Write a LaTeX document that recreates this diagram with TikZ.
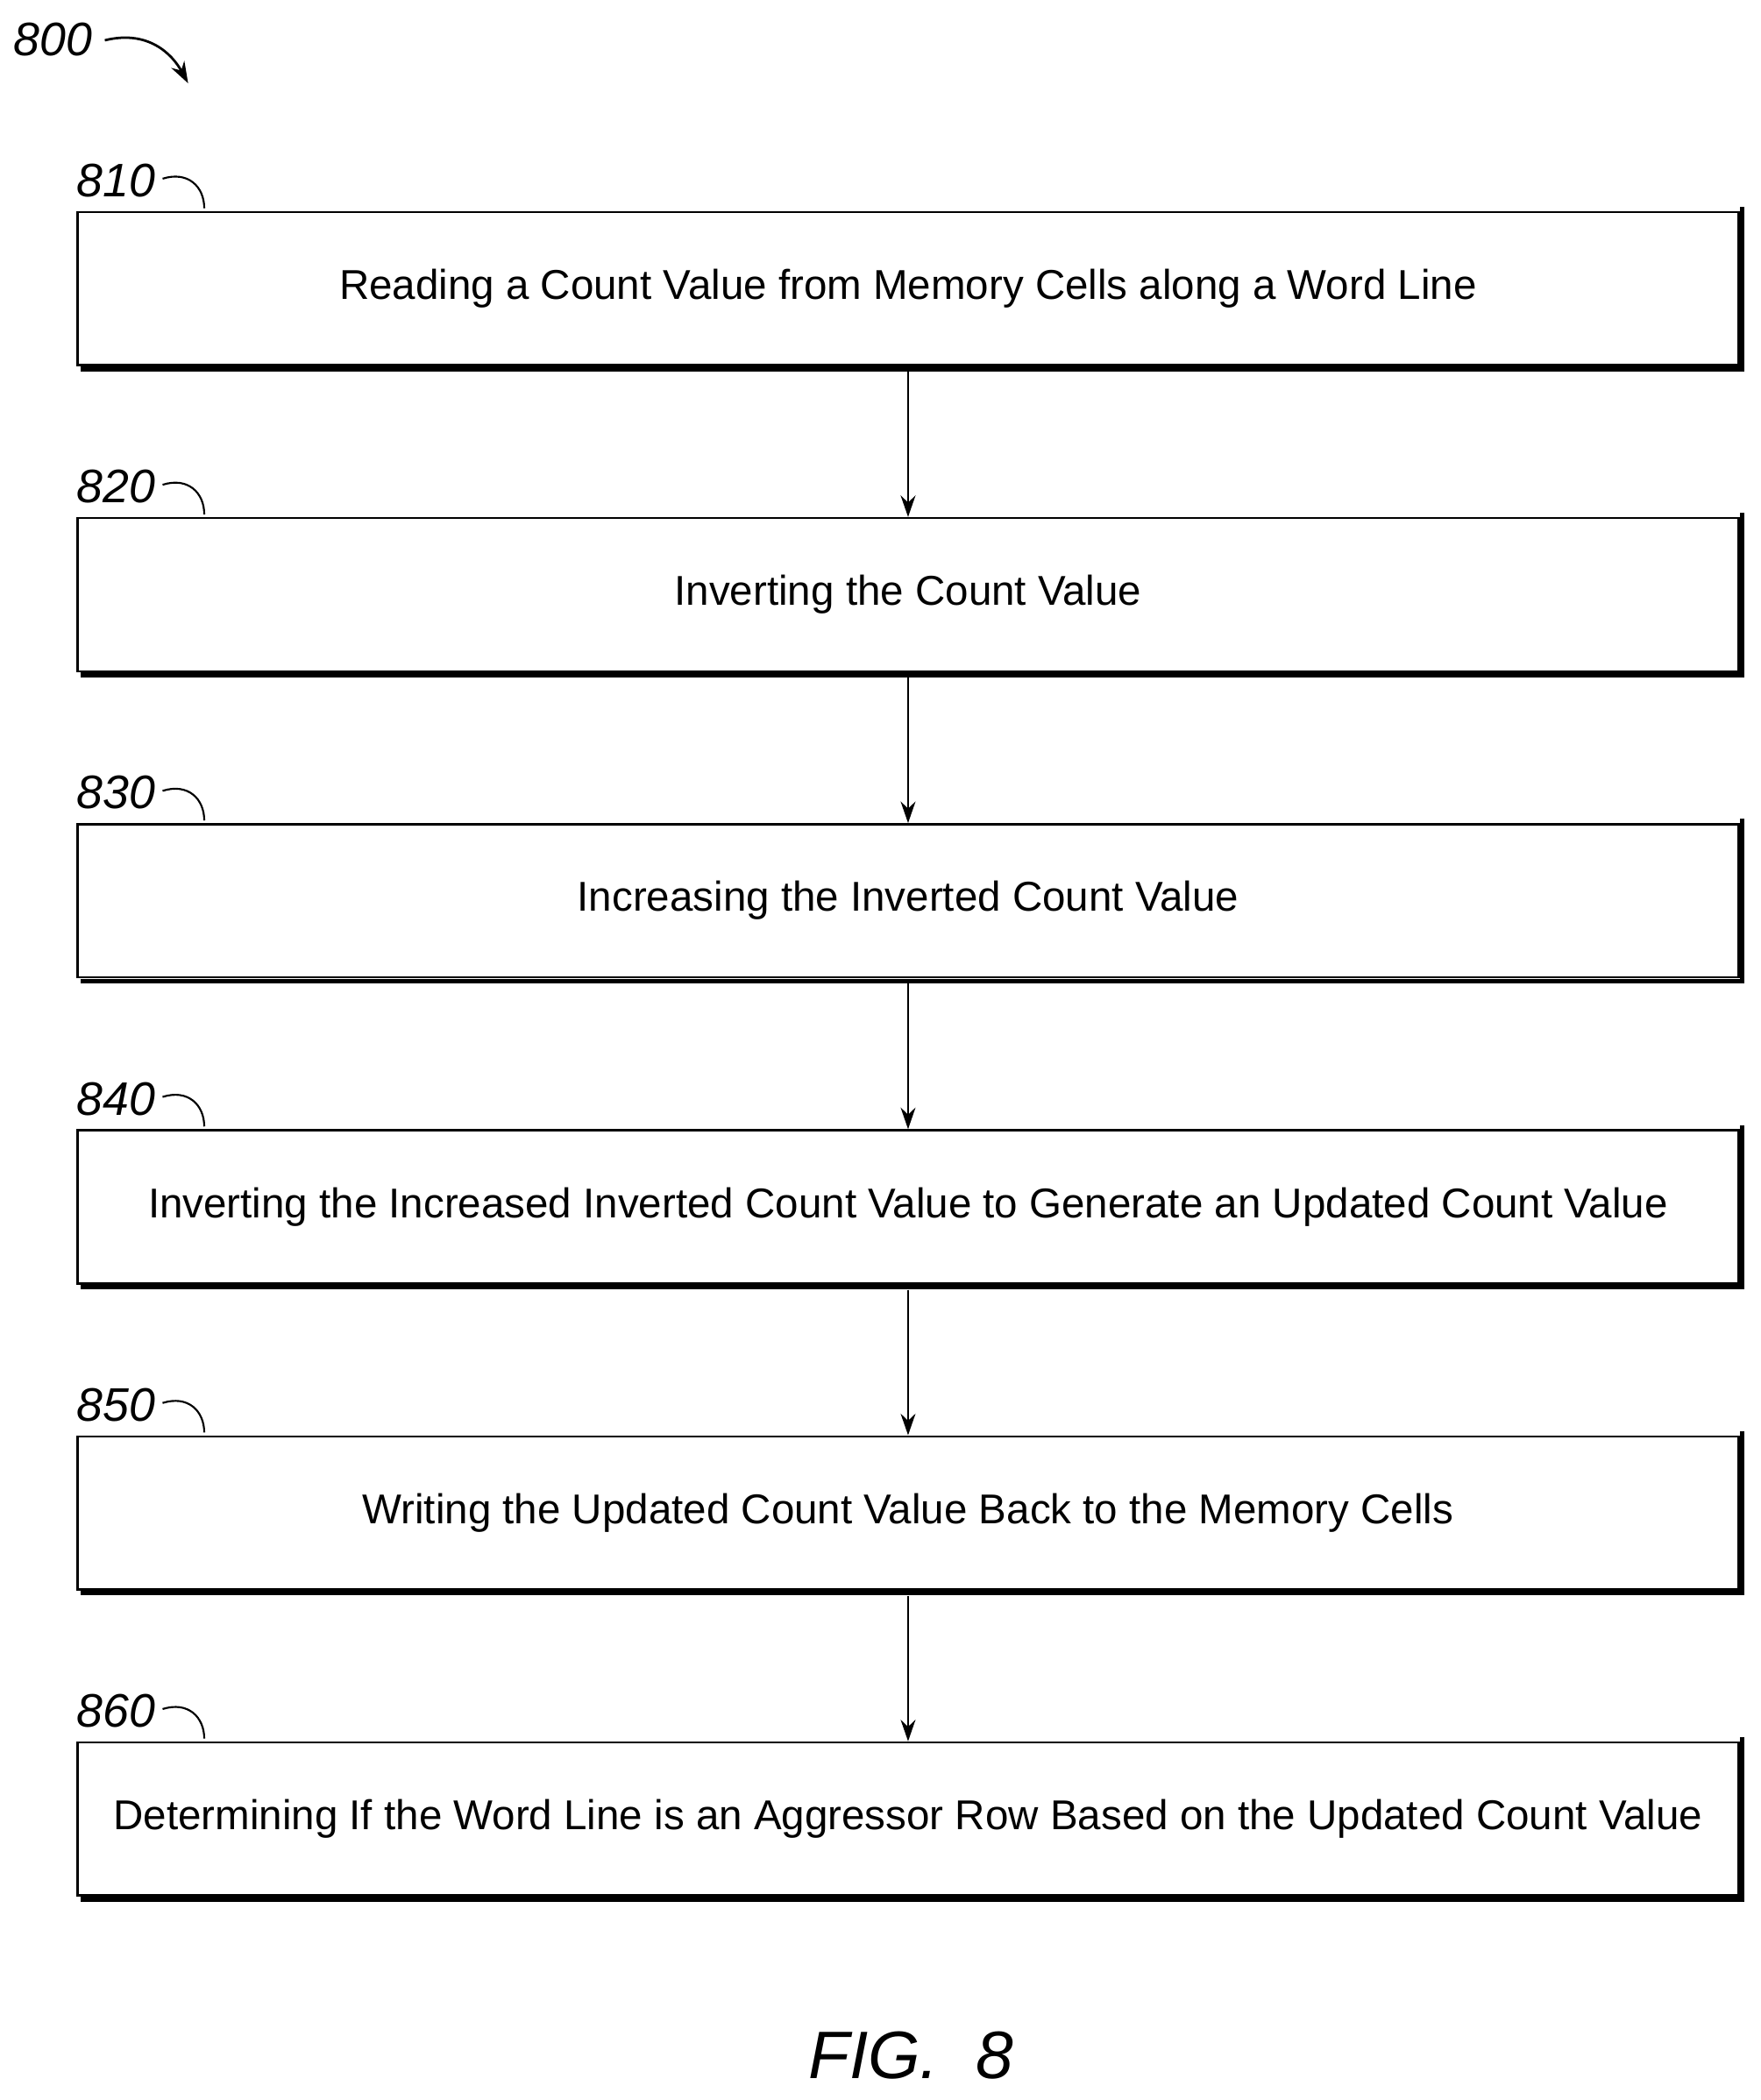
\documentclass[tikz,border=0pt]{standalone}
\usepackage{fontspec}
\setmainfont{Liberation Sans}
\usetikzlibrary{arrows.meta}
\begin{document}
\begin{tikzpicture}[x=1pt,y=-1pt,
  box/.style={draw,line width=1.6pt,minimum width=1236pt,minimum height=114pt,anchor=north west,inner sep=0pt,font=\fontsize{31}{34}\selectfont},
  lbl/.style={font=\fontsize{35}{38}\selectfont\itshape,anchor=south west,inner sep=0pt},
  arr/.style={-{Stealth[length=16pt,width=11pt]},line width=1.8pt}]
\useasboundingbox (0,0) rectangle (1310,1563);
\node[lbl] (l800) at (10,42) {800};
\coordinate (a800) at (140,62);
\draw[arr] (78,30) .. controls (110,22) and (128,40) .. (a800);
\foreach \i/\t [count=\k from 0] in {810/{Reading a Count Value from Memory Cells along a Word Line},
  820/{Inverting the Count Value},
  830/{Increasing the Inverted Count Value},
  840/{Inverting the Increased Inverted Count Value to Generate an Updated Count Value},
  850/{Writing the Updated Count Value Back to the Memory Cells},
  860/{Determining If the Word Line is an Aggressor Row Based on the Updated Count Value}}{
  \pgfmathsetmacro\yy{157+227.8*\k}
  \node[box] (b\i) at (57,\yy) {\t};
  \draw[line width=3.5pt] ([xshift=3pt,yshift=-2pt]b\i.south west) -- ([xshift=2pt,yshift=-2pt]b\i.south east) -- ([xshift=2pt,yshift=3pt]b\i.north east);
  \node[lbl] (l\i) at (57,\yy-10) {\i};
  \draw[line width=1.4pt] (121,\yy-24) .. controls (140,\yy-30) and (152,\yy-18) .. (152,\yy-2);
}
\foreach \a/\b in {810/820,820/830,830/840,840/850,850/860}
  \draw[arr] (b\a.south) ++(0,4) -- (b\b.north);
\node[font=\fontsize{50}{54}\selectfont\itshape] (fig) at (678,1530) {FIG.\ \ 8};
\end{tikzpicture}
\end{document}
